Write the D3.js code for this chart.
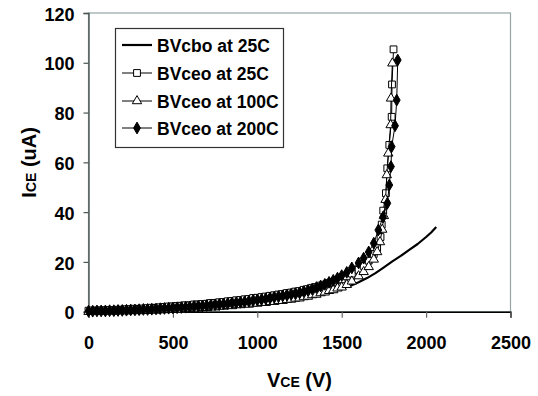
<!DOCTYPE html>
<html><head><meta charset="utf-8">
<script src="https://cdn.jsdelivr.net/npm/d3@7"></script>
<style>
html,body{margin:0;padding:0;background:#fff;}
svg text{font-family:"Liberation Sans",Arial,sans-serif;font-weight:bold;fill:#000;}
</style></head>
<body>
<svg id="chart" width="538" height="396"></svg>
<script>
// ---- data ----
const xTicks = [0, 500, 1000, 1500, 2000, 2500];
const yTicks = [0, 20, 40, 60, 80, 100, 120];
const seriesNames = ["BVcbo at 25C", "BVceo at 25C", "BVceo at 100C", "BVceo at 200C"];

const vCbo = [0,100,200,300,400,500,600,700,800,900,1000,1100,1200,1300,1400,1450,1500,1550,1600,1650,1700,1750,1800,1850,1900,1950,2000,2030,2060];
const iCbo = [0,0.3,0.6,0.9,1.2,1.5,1.9,2.3,2.8,3.3,3.9,4.6,5.4,6.4,7.6,8.4,9.3,10.3,11.8,13.5,15.5,17.8,20.2,22.4,24.8,27.2,30.0,31.8,34.0];

const v25 = [0,25,50,75,100,125,150,175,200,225,250,275,300,325,350,375,400,425,450,475,500,525,550,575,600,625,650,675,700,725,750,775,800,825,850,875,900,925,950,975,1000,1025,1050,1075,1100,1125,1150,1175,1200,1225,1250,1275,1300,1325,1350,1375,1400,1425,1450,1475,1500,
  1530,1560,1600,1630,1660,1690,1710,1730,1737,1746,1762,1770,1782,1796,1798,1807];
const i25 = [0.4,0.5,0.4,0.6,0.5,0.7,0.6,0.8,0.8,1.0,1.0,
  1.2,1.1,1.3,1.4,1.6,1.5,1.8,1.9,2.1,2.1,
  2.3,2.4,2.6,2.5,2.9,2.9,3.1,3.2,3.5,3.5,
  3.8,3.9,4.2,4.3,4.6,4.7,5.0,5.1,5.5,5.6,
  5.9,6.1,6.4,6.6,6.9,7.1,7.5,7.7,8.1,8.3,
  8.8,9.1,9.6,9.9,10.5,10.9,11.5,12.0,12.6,13.0,
  14.2,15.3,16.8,18.4,20.5,23.2,25.6,30.0,35.0,40.6,47.6,57.6,67.0,78.3,91.3,105.4];

const v100 = [0,25,50,75,100,125,150,175,200,225,250,275,300,325,350,375,400,425,450,475,500,525,550,575,600,625,650,675,700,725,750,775,800,825,850,875,900,925,950,975,1000,1025,1050,1075,1100,1125,1150,1175,1200,1225,1250,1275,1300,1325,1350,1375,1400,1425,1450,1475,1500,
  1530,1560,1600,1630,1660,1690,1710,1727,1740,1750,1760,1767,1776,1790,1792,1800];
const i100 = [0.0,0.0,0.1,0.0,0.1,0.2,0.1,0.2,0.3,0.2,0.3,
  0.4,0.3,0.5,0.4,0.6,0.5,0.7,0.7,0.8,0.8,
  1.0,0.9,1.2,1.1,1.4,1.3,1.6,1.6,1.9,1.8,
  2.1,2.1,2.4,2.3,2.7,2.7,3.0,2.9,3.3,3.3,
  3.6,3.6,4.0,4.0,4.4,4.4,4.8,4.9,5.3,5.4,
  5.9,6.1,6.7,6.9,7.5,7.8,8.4,8.7,9.4,9.8,
  10.8,12.2,14.3,16.0,18.0,21.0,24.0,28.0,33.0,38.5,45.0,54.9,63.6,75.0,85.7,99.8];

const v200 = [0,25,50,75,100,125,150,175,200,225,250,275,300,325,350,375,400,425,450,475,500,525,550,575,600,625,650,675,700,725,750,775,800,825,850,875,900,925,950,975,1000,1025,1050,1075,1100,1125,1150,1175,1200,1225,1250,1275,1300,1325,1350,1375,1400,1425,1450,1475,1500,
  1530,1560,1600,1630,1660,1690,1717,1745,1770,1782,1792,1796,1816,1826,1832];
const i200 = [0.2,0.2,0.3,0.3,0.3,0.4,0.4,0.5,0.5,0.6,0.7,
  0.7,0.8,0.9,0.9,1.0,1.1,1.2,1.3,1.4,1.5,
  1.6,1.7,1.8,1.9,2.1,2.2,2.3,2.5,2.6,2.8,
  2.9,3.1,3.3,3.5,3.6,3.8,4.0,4.2,4.5,4.7,
  4.9,5.2,5.5,5.8,6.1,6.4,6.7,7.0,7.3,7.6,
  8.1,8.6,9.1,9.7,10.3,11.0,11.8,12.6,13.5,14.5,
  15.8,17.6,19.6,21.5,24.0,27.5,32.8,38.0,43.5,50.9,58.3,66.3,74.7,85.0,101.1];

// ---- chart ----
const svg = d3.select("#chart");
const x = d3.scaleLinear().domain([0, 2500]).range([88.5, 510.5]);
const y = d3.scaleLinear().domain([0, 120]).range([311.7, 13]);

// plot area border
svg.append("rect").attr("x", x(0)).attr("y", y(120))
  .attr("width", x(2500) - x(0)).attr("height", y(0) - y(120))
  .attr("fill", "none").attr("stroke", "#95a5a5").attr("stroke-width", 1.2);

// axes
const xAxis = svg.append("g").attr("transform", `translate(0,${y(0)})`)
  .call(d3.axisBottom(x).tickValues(xTicks).tickSize(6).tickPadding(19).tickFormat(d3.format("d")));
xAxis.select(".domain").attr("stroke", "#000").attr("stroke-width", 1.4);
xAxis.selectAll(".tick line").attr("stroke", "#666").attr("stroke-width", 1.2);
xAxis.selectAll("text").style("font-size", "18px").attr("fill", "#000");

const yAxis = svg.append("g").attr("transform", `translate(${x(0)},0)`)
  .call(d3.axisLeft(y).tickValues(yTicks).tickSize(5).tickPadding(9).tickFormat(d3.format("d")));
yAxis.select(".domain").attr("stroke", "#4a5555").attr("stroke-width", 1.4);
yAxis.selectAll(".tick line").attr("stroke", "#4a5555").attr("stroke-width", 1.2);
yAxis.selectAll("text").style("font-size", "18px").attr("fill", "#000").attr("dy", "0.4em");

// axis titles
const xt = svg.append("text").attr("x", (x(0) + x(2500)) / 2).attr("y", 387)
  .attr("text-anchor", "middle").style("font-size", "20px");
xt.append("tspan").text("V");
xt.append("tspan").style("font-size", "14px").text("CE");
xt.append("tspan").text(" (V)");

const yt = svg.append("text").attr("transform", `translate(36,${(y(0) + y(120)) / 2}) rotate(-90)`)
  .attr("text-anchor", "middle").style("font-size", "20px");
yt.append("tspan").text("I");
yt.append("tspan").style("font-size", "14px").text("CE");
yt.append("tspan").text(" (uA)");

// series
const line = d3.line().x(d => x(d[0])).y(d => y(d[1]));
const zip = (a, b) => a.map((v, i) => [v, b[i]]);

const plot = svg.append("g");
plot.append("path").datum(zip(vCbo, iCbo)).attr("d", line)
  .attr("fill", "none").attr("stroke", "#000").attr("stroke-width", 2.2).attr("stroke-linejoin", "round");

const symSquare = d3.symbol().type(d3.symbolSquare).size(46);
const symTri = d3.symbol().type(d3.symbolTriangle).size(38);
const symDia = d3.symbol().type(d3.symbolDiamond).size(40);

function drawSeries(vs, is, sym, fill) {
  const data = zip(vs, is);
  plot.append("path").datum(data).attr("d", line)
    .attr("fill", "none").attr("stroke", "#000").attr("stroke-width", 1);
  plot.append("g").selectAll("path").data(data).join("path")
    .attr("transform", d => `translate(${x(d[0])},${y(d[1])})`)
    .attr("d", sym)
    .attr("fill", fill).attr("stroke", "#000").attr("stroke-width", 1);
}
drawSeries(v25, i25, symSquare, "#fff");
drawSeries(v100, i100, symTri, "#fff");
drawSeries(v200, i200, symDia, "#000");

// legend
const lg = svg.append("g");
lg.append("rect").attr("x", 115.5).attr("y", 28.5).attr("width", 168).attr("height", 119)
  .attr("fill", "#fff").attr("stroke", "#333").attr("stroke-width", 1.2);
const rowY = [45, 73, 101, 128];
const legSyms = [null, symSquare, symTri, symDia];
const legFill = [null, "#fff", "#fff", "#000"];
seriesNames.forEach((name, k) => {
  const gy = rowY[k];
  lg.append("line").attr("x1", 122).attr("x2", 152).attr("y1", gy).attr("y2", gy)
    .attr("stroke", "#000").attr("stroke-width", k === 0 ? 2.2 : 1);
  if (legSyms[k]) {
    lg.append("path").attr("transform", `translate(137,${gy})`).attr("d", legSyms[k])
      .attr("fill", legFill[k]).attr("stroke", "#000").attr("stroke-width", 1);
  }
  lg.append("text").attr("x", 157).attr("y", gy + 6.5).style("font-size", "17.5px").text(name);
});
</script>
</body></html>
